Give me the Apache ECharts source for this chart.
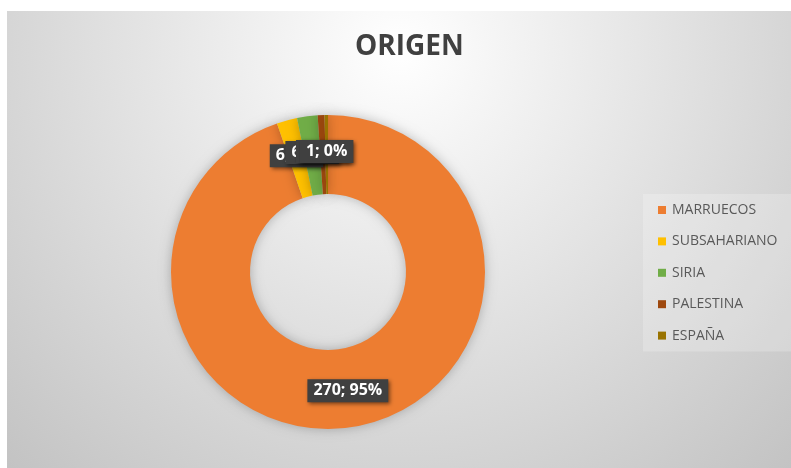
<!DOCTYPE html>
<html>
<head>
<meta charset="utf-8">
<script src="https://cdn.jsdelivr.net/npm/echarts@6/dist/echarts.min.js"></script>
<style>
html, body { margin: 0; padding: 0; background: #fff; }
#main { width: 791px; height: 468px; }
</style>
</head>
<body>
<div id="main"></div>
<script>
var categories = ['MARRUECOS', 'SUBSAHARIANO', 'SIRIA', 'PALESTINA', 'ESPAÑA'];
var values = [270, 6, 6, 2, 1];
var colors = ['#ED7D31', '#FFC000', '#70AD47', '#9E480E', '#997300'];

var chart = echarts.init(document.getElementById('main'));

var pieData = categories.map(function (name, i) {
	return { name: name, value: values[i], itemStyle: { color: colors[i] } };
});

var option = {
	animation: false,
	graphic: [{
		type: 'rect',
		z: -10,
		shape: { x: 7, y: 11, width: 784, height: 457 },
		style: {
			fill: {
				type: 'radial',
				x: 400, y: 50, r: 600,
				global: true,
				colorStops: [
					{ offset: 0, color: '#ffffff' },
					{ offset: 0.3, color: '#ececec' },
					{ offset: 1, color: '#c0c0c0' }
				]
			}
		}
	}],
	title: {
		text: 'ORIGEN',
		left: 350,
		top: 28,
		textStyle: {
			fontFamily: 'Open Sans',
			fontSize: 28,
			fontWeight: 'bold',
			color: '#404040'
		}
	},
	legend: {
		orient: 'vertical',
		left: 643,
		top: 194,
		padding: [8, 14, 8, 15],
		backgroundColor: 'rgba(255,255,255,0.22)',
		icon: 'rect',
		itemWidth: 8,
		itemHeight: 8,
		itemGap: 15.4,
		textStyle: {
			fontFamily: 'Open Sans',
			fontSize: 14,
			lineHeight: 16,
			color: '#595959',
			padding: [0, 0, 0, 1]
		},
		data: categories
	},
	series: [{
		type: 'pie',
		center: [328, 272],
		radius: [78, 157],
		startAngle: 90,
		clockwise: true,
		percentPrecision: 0,
		avoidLabelOverlap: false,
		labelLayout: { hideOverlap: false },
		itemStyle: {
			shadowBlur: 12,
			shadowColor: 'rgba(0,0,0,0.25)'
		},
		emphasis: { disabled: true },
		label: {
			show: true,
			position: 'inside',
			formatter: '{c}; {d}%',
			fontFamily: 'Open Sans',
			fontSize: 16,
			fontWeight: 'bold',
			color: '#ffffff',
			backgroundColor: '#404040',
			padding: [4, 6, 3, 6],
			shadowColor: 'rgba(0,0,0,0.5)',
			shadowBlur: 4,
			shadowOffsetX: 2,
			shadowOffsetY: 2
		},
		labelLine: { show: false },
		data: pieData
	}]
};

chart.setOption(option);
</script>
</body>
</html>
